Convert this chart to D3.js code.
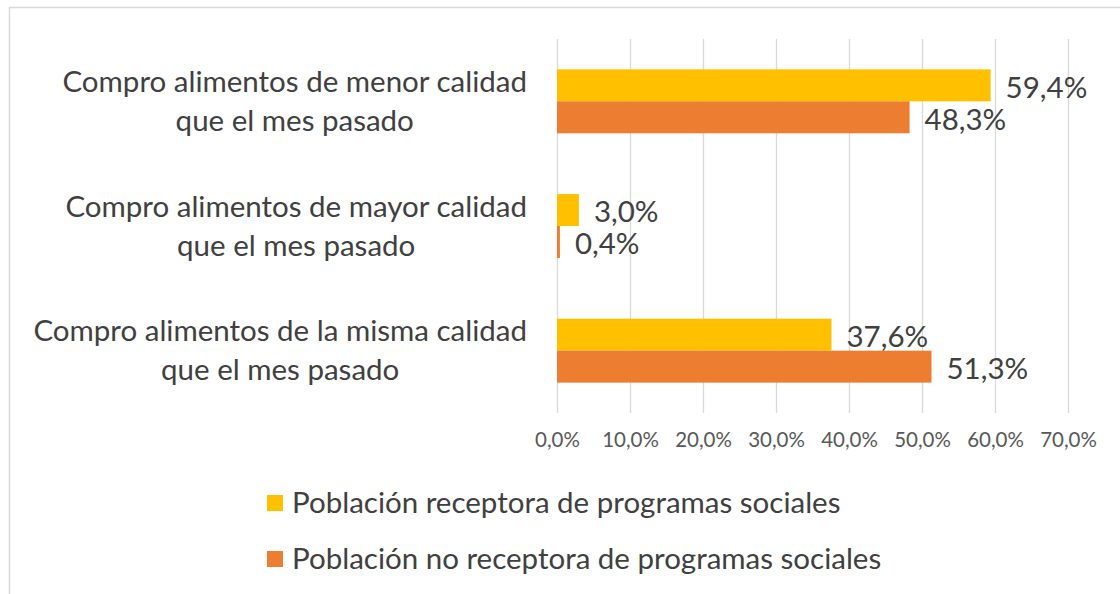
<!DOCTYPE html>
<html>
<head>
<meta charset="utf-8">
<script src="https://cdn.jsdelivr.net/npm/d3@7"></script>
<style>
body{margin:0;background:#fff}
svg{display:block}
text{font-family:Lato,"Open Sans",sans-serif}
</style>
</head>
<body>
<div id="chart"></div>
<script>
'use strict'
const width=1120
const height=594
const categories=[
  ["Compro alimentos de menor calidad","que el mes pasado"],
  ["Compro alimentos de mayor calidad","que el mes pasado"],
  ["Compro alimentos de la misma calidad","que el mes pasado"]
]
const seriesNames=["Población receptora de programas sociales","Población no receptora de programas sociales"]
const receptora=[59.4,3.0,37.6]
const noReceptora=[48.3,0.4,51.3]
const tickValues=[0,10,20,30,40,50,60,70]
const colors=["#FFC000","#ED7D31"]

let plot={left:557,right:1068,top:39,bottom:413}
let fmt=v=>v.toFixed(1).replace(".",",")+"%"

let svg=d3.select("#chart").append("svg").attr("width",width).attr("height",height)

// outer frame of the chart area
svg.append("rect").attr("x",9.5).attr("y",7.5).attr("width",width).attr("height",height)
  .attr("fill","none").attr("stroke","#d9d9d9").attr("stroke-width",1.5)

let x=d3.scaleLinear().domain([0,70]).range([plot.left,plot.right])
let y=d3.scaleBand().domain(d3.range(categories.length)).range([plot.top,plot.bottom])
let ySub=d3.scaleBand().domain([0,1]).range([0,y.bandwidth()]).paddingOuter(0.95)

// vertical gridlines
svg.append("g").selectAll("line").data(tickValues).enter().append("line")
  .attr("x1",d=>x(d)+0.5).attr("x2",d=>x(d)+0.5)
  .attr("y1",plot.top).attr("y2",plot.bottom)
  .attr("stroke","#d9d9d9").attr("stroke-width",1.3)

// x axis tick labels
let xAxis=d3.axisBottom(x).tickValues(tickValues).tickFormat(fmt).tickSize(0).tickPadding(0)
let gx=svg.append("g").attr("transform","translate(0,"+(plot.bottom+27)+")").call(xAxis)
gx.select(".domain").remove()
gx.selectAll("text").attr("fill","#595959").style("font-size","20.5px").attr("dy","0.35em").attr("y",0)

// bars
let rows=categories.map((c,i)=>[receptora[i],noReceptora[i]])
let groups=svg.append("g").selectAll("g").data(rows).enter().append("g")
  .attr("transform",(d,i)=>"translate(0,"+y(i)+")")
groups.selectAll("rect").data(d=>d).enter().append("rect")
  .attr("x",x(0)).attr("y",(d,j)=>ySub(j))
  .attr("width",d=>x(d)-x(0)).attr("height",ySub.bandwidth())
  .attr("fill",(d,j)=>colors[j])

// value labels
groups.selectAll("text").data(d=>d).enter().append("text")
  .attr("x",d=>x(d)+15).attr("y",(d,j)=>ySub(j)+ySub.bandwidth()/2+2)
  .attr("dy","0.35em").attr("fill","#404040").style("font-size","29.5px")
  .text(fmt)

// category labels, centered block with right edge next to axis
let labelRight=527
categories.forEach((lines,i)=>{
  let g=svg.append("g")
  let cy=y(i)+y.bandwidth()/2
  let ts=lines.map((l,k)=>g.append("text").attr("y",cy+(k-0.5)*39).attr("dy","0.35em")
    .attr("text-anchor","middle").attr("fill","#404040").style("font-size","29.5px").text(l))
  let w=d3.max(ts,t=>t.node().getComputedTextLength())
  ts.forEach(t=>t.attr("x",labelRight-w/2))
})

// legend
let legend=svg.append("g").selectAll("g").data(seriesNames).enter().append("g")
  .attr("transform",(d,i)=>"translate(267,"+(503+i*56)+")")
legend.append("rect").attr("x",0).attr("y",-8).attr("width",16).attr("height",16).attr("fill",(d,i)=>colors[i])
legend.append("text").attr("x",25).attr("dy","0.35em").attr("fill","#404040").style("font-size","29.5px").text(d=>d)
</script>
</body>
</html>
